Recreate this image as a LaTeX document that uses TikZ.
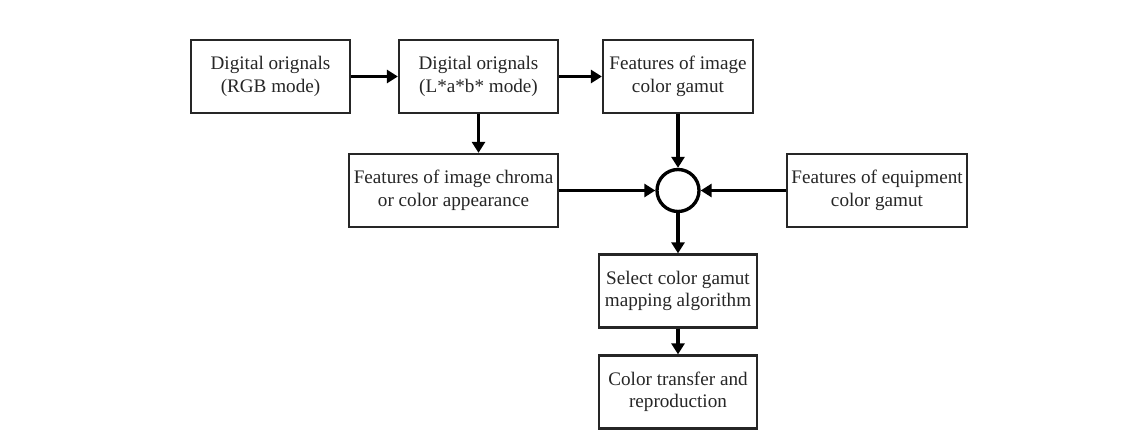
\documentclass[tikz,border=0pt]{standalone}
\usepackage{fontspec}
\setmainfont{Liberation Serif}
\usetikzlibrary{arrows.meta}

\tikzset{
	flowBox/.style={rectangle, draw=black!85, line width=1.3pt, fill=white, text=black!85, minimum width=3.18cm, minimum height=1.46cm, align=center, inner sep=1pt, font=\fontsize{10.9}{12.8}\selectfont},
	flowArrow/.style={line width=1.9pt, -{Triangle[length=2.2mm, width=2.6mm]}}
}

\begin{document}
\begin{tikzpicture}
	\useasboundingbox (0,0) rectangle (22.86,8.6);

	\node[flowBox](rgbOrig) at (5.41,7.07){Digital orignals\\(RGB mode)};
	\node[flowBox](labOrig) at (9.57,7.07){Digital orignals\\(L*a*b* mode)};
	\node[flowBox, minimum width=3.0cm](imgGamut) at (13.56,7.07){Features of image\\color gamut};

	\node[flowBox, minimum width=4.18cm](imgChroma) at (9.07,4.79){Features of image chroma\\or color appearance};
	\node[circle, draw, line width=1.9pt, minimum size=0.84cm](joinPt) at (13.56,4.79){};
	\node[flowBox, minimum width=3.6cm](equipGamut) at (17.54,4.79){Features of equipment\\color gamut};

	\node[flowBox, minimum width=3.16cm](selectAlg) at (13.56,2.78){Select color gamut\\mapping algorithm};
	\node[flowBox, minimum width=3.16cm](transferRep) at (13.56,0.76){Color transfer and\\reproduction};


	\draw[flowArrow](rgbOrig) -- (labOrig);
	\draw[flowArrow](labOrig) -- (imgGamut);
	\draw[flowArrow](labOrig.south) -- (labOrig.south |- imgChroma.north);

	\draw[flowArrow](imgGamut) -- (joinPt);
	\draw[flowArrow](imgChroma) -- (joinPt);
	\draw[flowArrow](equipGamut) -- (joinPt);

	\draw[flowArrow](joinPt) -- (selectAlg);
	\draw[flowArrow](selectAlg) -- (transferRep);

\end{tikzpicture}
\end{document}
